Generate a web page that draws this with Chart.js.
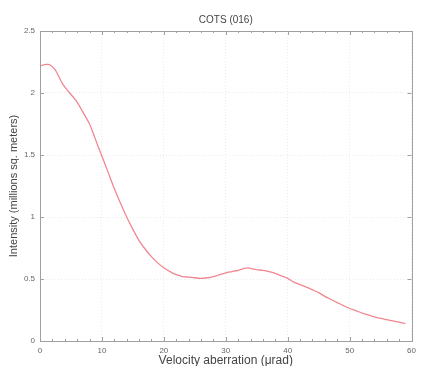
<!DOCTYPE html>
<html lang="en">
<head>
    <meta charset="UTF-8">
    <title>COTS (016)</title>
    <style>
        html, body {
            margin: 0;
            padding: 0;
            background: #ffffff;
        }
    </style>
</head>
<body>

<canvas id="cots" width="421" height="366"></canvas>

<script src="https://cdn.jsdelivr.net/npm/chart.js"></script>

<script>
    // velocity aberration (urad) and intensity (millions sq. meters)
    const velocity = [0, 1, 1.5, 2.4, 3.7, 4.8, 5.8, 7, 8, 9, 10, 11, 12, 13, 14, 15, 16, 17, 18, 19,
        20, 21, 22, 23, 24, 25, 26, 27, 28, 29, 30, 31, 32, 33, 33.5, 34, 35, 36, 37, 38, 39,
        40, 41, 42, 43, 44, 45, 46, 47, 48, 49, 50, 51, 52, 53, 54, 55, 56, 57, 58, 59];
    const intensity = [2.22, 2.23, 2.23, 2.19, 2.07, 2.0, 1.94, 1.84, 1.75, 1.62, 1.49, 1.36, 1.23, 1.11, 1.0, 0.9, 0.81, 0.74, 0.68, 0.63,
        0.59, 0.56, 0.535, 0.52, 0.515, 0.51, 0.505, 0.51, 0.52, 0.535, 0.55, 0.56, 0.57, 0.585, 0.59, 0.585, 0.575, 0.57, 0.56, 0.545, 0.525,
        0.505, 0.475, 0.455, 0.435, 0.413, 0.39, 0.36, 0.335, 0.31, 0.285, 0.262, 0.245, 0.225, 0.21, 0.195, 0.182, 0.172, 0.162, 0.152, 0.14];

    const xTicks = [0, 10, 20, 30, 40, 50, 60];
    const yTicks = [0, 0.5, 1, 1.5, 2, 2.5];

    const points = velocity.map((v, i) => ({ x: v, y: intensity[i] }));
    const fontFamily = 'Liberation Sans, Arial, sans-serif';

    // box around the plot with inward ticks, matlab style
    const framePlugin = {
        id: 'frame',
        afterDraw(chart) {
            const ctx = chart.ctx;
            const a = chart.chartArea;
            const xs = chart.scales.x;
            const ys = chart.scales.y;
            ctx.save();
            ctx.strokeStyle = '#a0a0a0';
            ctx.lineWidth = 1;
            ctx.strokeRect(Math.round(a.left) + 0.5, Math.round(a.top) + 0.5,
                Math.round(a.right - a.left), Math.round(a.bottom - a.top));
            ctx.beginPath();
            for (let v = 0; v <= 60; v += 2) {
                const px = Math.round(xs.getPixelForValue(v)) + 0.5;
                const len = (v % 10 === 0) ? 4 : 2;
                ctx.moveTo(px, a.bottom);
                ctx.lineTo(px, a.bottom - len);
                ctx.moveTo(px, a.top);
                ctx.lineTo(px, a.top + len);
            }
            yTicks.forEach(v => {
                const py = Math.round(ys.getPixelForValue(v)) + 0.5;
                ctx.moveTo(a.left, py);
                ctx.lineTo(a.left + 4, py);
                ctx.moveTo(a.right, py);
                ctx.lineTo(a.right - 4, py);
            });
            ctx.stroke();
            ctx.restore();
        }
    };

    new Chart(document.getElementById('cots'), {
        type: 'line',
        data: {
            datasets: [{
                label: 'COTS (016)',
                data: points,
                borderColor: 'rgb(240, 135, 145)',
                borderWidth: 1.3,
                pointRadius: 0,
                tension: 0.3,
                fill: false
            }]
        },
        options: {
            responsive: false,
            animation: false,
            devicePixelRatio: 1,
            layout: { padding: { left: 0, right: 4, top: 0, bottom: 0 } },
            plugins: {
                legend: { display: false },
                tooltip: { enabled: false },
                title: {
                    display: true,
                    text: 'COTS (016)',
                    fullSize: false,
                    color: '#444444',
                    font: { family: fontFamily, size: 10, weight: 'normal' },
                    padding: { top: 14, bottom: 5 }
                }
            },
            scales: {
                x: {
                    type: 'linear',
                    min: 0,
                    max: 60,
                    afterBuildTicks: s => { s.ticks = xTicks.map(v => ({ value: v })); },
                    afterFit: s => { s.height = 25; },
                    border: { display: false, dash: [1, 2] },
                    grid: {
                        color: '#ebebeb',
                        drawTicks: false
                    },
                    ticks: {
                        color: '#666666',
                        padding: 5,
                        maxRotation: 0,
                        font: { family: fontFamily, size: 8 }
                    },
                    title: {
                        display: true,
                        text: 'Velocity aberration (\u03bcrad)',
                        color: '#444444',
                        padding: { top: 0, bottom: 0 },
                        font: { family: fontFamily, size: 12, lineHeight: 0.9 }
                    }
                },
                y: {
                    min: 0,
                    max: 2.5,
                    afterBuildTicks: s => { s.ticks = yTicks.map(v => ({ value: v })); },
                    afterFit: s => { s.width = 40; },
                    border: { display: false, dash: [1, 2] },
                    grid: {
                        color: '#ebebeb',
                        drawTicks: false
                    },
                    ticks: {
                        color: '#666666',
                        padding: 5,
                        callback: v => String(v),
                        font: { family: fontFamily, size: 8 }
                    },
                    title: {
                        display: true,
                        text: 'Intensity (millions sq. meters)',
                        color: '#444444',
                        padding: { top: 7, bottom: 0 },
                        font: { family: fontFamily, size: 11 }
                    }
                }
            }
        },
        plugins: [framePlugin]
    });
</script>

</body>
</html>
